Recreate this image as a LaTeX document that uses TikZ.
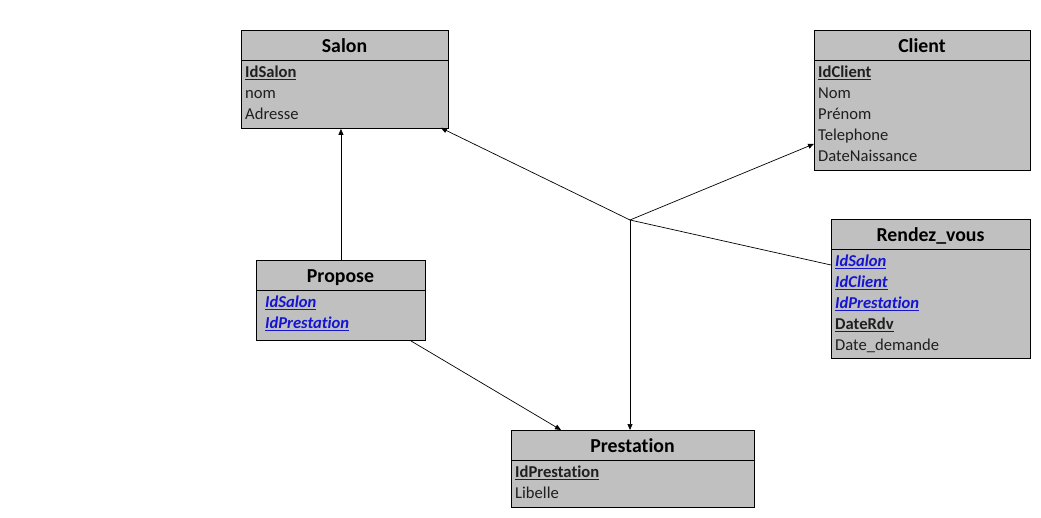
\documentclass[tikz,border=0pt]{standalone}
\usepackage{fontspec}
\setmainfont{Carlito}[Ligatures={NoCommon}]
\usetikzlibrary{arrows.meta}
\definecolor{boxgray}{RGB}{192,192,192}
\definecolor{fkblue}{RGB}{20,20,210}
\begin{document}
\begin{tikzpicture}[x=1pt,y=-1pt,
 entity/.style={draw=black, fill=boxgray, line width=0.9pt, anchor=north west, inner sep=0pt},
 title/.style={font=\fontsize{19.8}{21}\selectfont\bfseries, inner sep=0pt, anchor=base},
 attr/.style={font=\fontsize{16.6}{18}\selectfont, anchor=base west, inner sep=0pt, text=black!88},
 fk/.style={attr, text=fkblue, font=\fontsize{16.6}{18}\selectfont\bfseries\itshape},
 sep/.style={line width=0.9pt},
 link/.style={line width=0.7pt},
 arr/.style={link, -{Triangle[length=6pt,width=5pt]}}]
\useasboundingbox[fill=white] (0,0) rectangle (1041,518);

% Salon
\node[entity, minimum width=207pt, minimum height=98pt] (salon) at (241,30) {};
\node[title] (salonT) at (344.5,52.5) {Salon};
\draw[sep] ([yshift=-30pt]salon.north west) -- ([yshift=-30pt]salon.north east);
\node[attr] (s1) at (245,77.5) {\underline{\textbf{IdSalon}}};
\node[attr] (s2) at (245,98.5) {nom};
\node[attr] (s3) at (245,119.5) {Adresse};

% Client
\node[entity, minimum width=216pt, minimum height=140pt] (client) at (814,30) {};
\node[title] (clientT) at (922,52.5) {Client};
\draw[sep] ([yshift=-30pt]client.north west) -- ([yshift=-30pt]client.north east);
\node[attr] (c1) at (818,77.5) {\underline{\textbf{IdClient}}};
\node[attr] (c2) at (818,98.5) {Nom};
\node[attr] (c3) at (818,119.5) {Prénom};
\node[attr] (c4) at (818,140.5) {Telephone};
\node[attr] (c5) at (818,161.5) {DateNaissance};

% Rendez_vous
\node[entity, minimum width=199pt, minimum height=139pt] (rdv) at (831,219) {};
\node[title] (rdvT) at (930.5,241.5) {Rendez\_vous};
\draw[sep] ([yshift=-30pt]rdv.north west) -- ([yshift=-30pt]rdv.north east);
\node[fk] (r1) at (835,266.5) {\underline{IdSalon}};
\node[fk] (r2) at (835,287.5) {\underline{IdClient}};
\node[fk] (r3) at (835,308.5) {\underline{IdPrestation}};
\node[attr] (r4) at (835,329.5) {\underline{\textbf{DateRdv}}};
\node[attr] (r5) at (835,350.5) {Date\_demande};

% Propose
\node[entity, minimum width=169pt, minimum height=80pt] (propose) at (256,260) {};
\node[title] (proposeT) at (340.5,282.5) {Propose};
\draw[sep] ([yshift=-30pt]propose.north west) -- ([yshift=-30pt]propose.north east);
\node[fk] (p1) at (265,307.5) {\underline{IdSalon}};
\node[fk] (p2) at (265,328.5) {\underline{IdPrestation}};

% Prestation
\node[entity, minimum width=243pt, minimum height=77pt] (prestation) at (511,430) {};
\node[title] (prestationT) at (632.5,452.5) {Prestation};
\draw[sep] ([yshift=-30pt]prestation.north west) -- ([yshift=-30pt]prestation.north east);
\node[attr] (t1) at (515,477.5) {\underline{\textbf{IdPrestation}}};
\node[attr] (t2) at (515,498.5) {Libelle};

% connectors
\coordinate (j) at (630,220);
\draw[arr] (propose.north) -- (propose.north |- salon.south);
\draw[arr] ([xshift=-15pt]propose.south east) -- ([xshift=50pt]prestation.north west);
\draw[arr] (j) -- ([xshift=-8pt,yshift=1pt]salon.south east);
\draw[arr] (j) -- ([yshift=27pt]client.south west);
\draw[arr] (j) -- (j |- prestation.north);
\draw[link] (j) -- ([yshift=-46pt]rdv.north west);
\end{tikzpicture}
\end{document}
